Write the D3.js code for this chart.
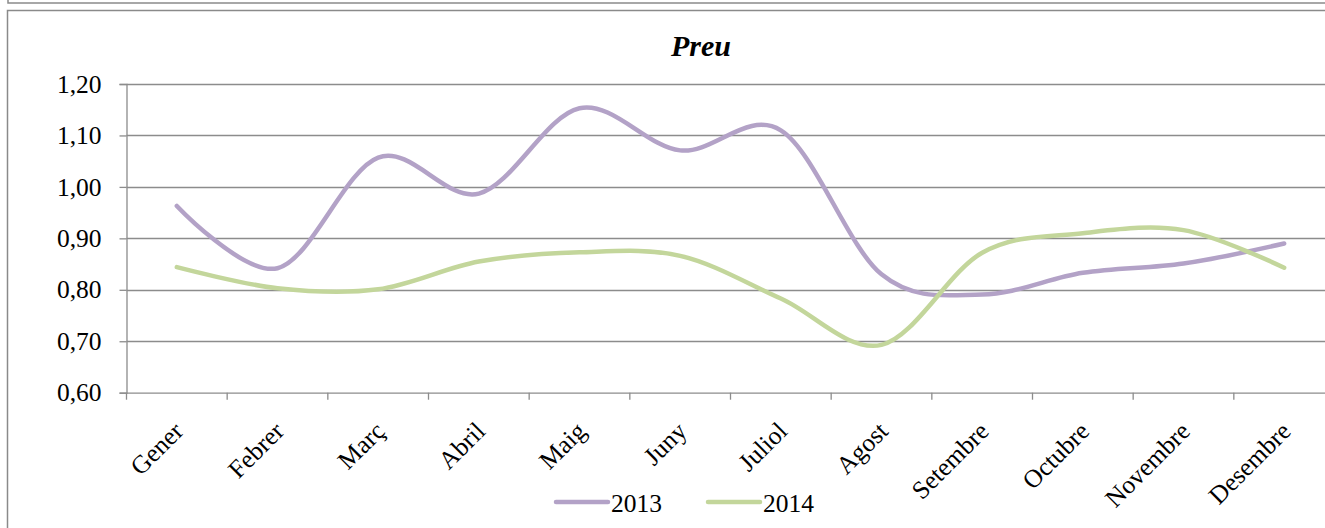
<!DOCTYPE html>
<html>
<head>
<meta charset="utf-8">
<script src="https://cdn.jsdelivr.net/npm/d3@7"></script>
<style>
    body { margin: 0; background: #fff; }
    svg { display: block; font-family: "Liberation Serif", "Times New Roman", serif; }
</style>
</head>
<body>
<div id="chart"></div>
<script>
/* ----------------------------------------------------- Data ------------------------------------------------------------------------- */

const months = ["Gener", "Febrer", "Març", "Abril", "Maig", "Juny", "Juliol", "Agost", "Setembre", "Octubre", "Novembre", "Desembre"];
const values2013 = [0.963, 0.842, 1.057, 0.987, 1.153, 1.071, 1.110, 0.830, 0.791, 0.833, 0.851, 0.890];
const values2014 = [0.844, 0.803, 0.801, 0.855, 0.873, 0.866, 0.783, 0.693, 0.872, 0.910, 0.916, 0.843];
const yTicks = [0.6, 0.7, 0.8, 0.9, 1.0, 1.1, 1.2];
const seriesNames = ["2013", "2014"];
const seriesColors = ["#b3a2c7", "#c3d69b"];

/* ----------------------------------------------------- Chart ------------------------------------------------------------------------ */

const svgWidth = 1325;
const svgHeight = 528;
const plot = { left: 126.5, right: 1334.5, top: 84, bottom: 392.7 };
const fontSize = '25.5px';

const svg = d3.select('#chart').append('svg')
    .attr('width', svgWidth)
    .attr('height', svgHeight);

/* frames */
svg.append('rect')
    .attr('x', 8).attr('y', -20)
    .attr('width', 1400).attr('height', 23)
    .attr('fill', 'none')
    .attr('stroke', '#8a8a8a')
    .attr('stroke-width', 1.5);

svg.append('rect')
    .attr('x', 7.5).attr('y', 10.5)
    .attr('width', 1400).attr('height', 600)
    .attr('fill', 'none')
    .attr('stroke', '#8a8a8a')
    .attr('stroke-width', 1.5);

const xScale = d3.scaleBand()
    .domain(months)
    .range([plot.left, plot.right])
    .padding(0);

const yScale = d3.scaleLinear()
    .domain([0.6, 1.2])
    .range([plot.bottom, plot.top]);

/* gridlines */
svg.append('g')
    .selectAll('line')
    .data(yTicks.slice(1))
    .enter()
    .append('line')
    .attr('x1', plot.left)
    .attr('x2', plot.right)
    .attr('y1', d => Math.round(yScale(d)) + 0.5)
    .attr('y2', d => Math.round(yScale(d)) + 0.5)
    .attr('stroke', '#8c8c8c')
    .attr('stroke-width', 1.3);

/* y axis */
const yAxis = svg.append('g')
    .attr('transform', `translate(${plot.left}, 0)`)
    .call(d3.axisLeft(yScale)
        .tickValues(yTicks)
        .tickSize(7)
        .tickPadding(18)
        .tickFormat(d => d3.format('.2f')(d).replace('.', ',')));
yAxis.select('.domain').attr('stroke', '#8c8c8c').attr('stroke-width', 1.3);
yAxis.selectAll('.tick line').attr('stroke', '#8c8c8c').attr('stroke-width', 1.3);
yAxis.selectAll('text')
    .attr('fill', '#000')
    .style('font-size', fontSize)
    .style('font-family', '"Liberation Serif", serif');

/* x axis */
const xAxis = svg.append('g')
    .attr('transform', `translate(0, ${plot.bottom})`)
    .call(d3.axisBottom(xScale).tickSize(0).tickFormat(''));
xAxis.select('.domain').attr('stroke', '#8c8c8c').attr('stroke-width', 1.3);

svg.append('g')
    .selectAll('line')
    .data(months)
    .enter()
    .append('line')
    .attr('x1', d => xScale(d))
    .attr('x2', d => xScale(d))
    .attr('y1', plot.bottom)
    .attr('y2', plot.bottom + 7)
    .attr('stroke', '#8c8c8c')
    .attr('stroke-width', 1.3);

svg.append('g')
    .selectAll('text')
    .data(months)
    .enter()
    .append('text')
    .attr('transform', d => `translate(${xScale(d) + xScale.bandwidth() / 2 - 5}, ${plot.bottom + 27}) rotate(-45)`)
    .attr('dy', '0.72em')
    .style('text-anchor', 'end')
    .style('font-size', fontSize)
    .text(d => d);

/* lines */
const line = d3.line()
    .x((d, i) => xScale(months[i]) + xScale.bandwidth() / 2)
    .y(d => yScale(d))
    .curve(d3.curveCardinal.tension(0));

[values2013, values2014].forEach(function (values, i) {
    svg.append('path')
        .datum(values)
        .attr('d', line)
        .attr('fill', 'none')
        .attr('stroke', seriesColors[i])
        .attr('stroke-width', 4.5)
        .attr('stroke-linecap', 'round');
});

/* title */
svg.append('text')
    .attr('x', 701)
    .attr('y', 56)
    .style('text-anchor', 'middle')
    .style('font-size', '30px')
    .style('font-weight', 'bold')
    .style('font-style', 'italic')
    .text('Preu');

/* legend */
const legendX = [556, 708];
const legend = svg.append('g')
    .selectAll('g')
    .data(seriesNames)
    .enter()
    .append('g')
    .attr('transform', (d, i) => `translate(${legendX[i]}, 502)`);

legend.append('line')
    .attr('x1', 0).attr('x2', 52)
    .attr('y1', 0).attr('y2', 0)
    .attr('stroke', (d, i) => seriesColors[i])
    .attr('stroke-width', 4.5)
    .attr('stroke-linecap', 'round');

legend.append('text')
    .attr('x', 55)
    .attr('y', 10)
    .style('font-size', fontSize)
    .text(d => d);
</script>
</body>
</html>
